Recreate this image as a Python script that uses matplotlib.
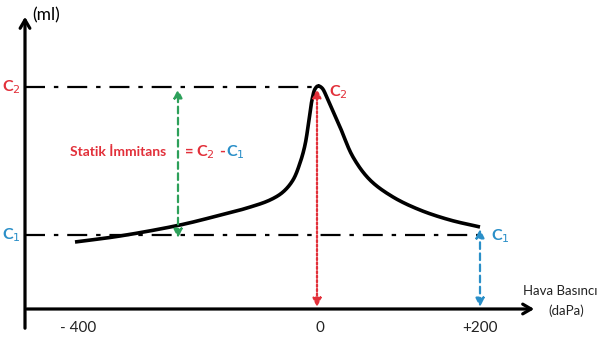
import matplotlib
matplotlib.use("Agg")
import matplotlib.pyplot as plt
import numpy as np

# ---- data (chart layout units; y grows downward like the picture) ----
curve_x = [75, 120, 180, 213, 247, 270, 283, 293, 300, 305, 309, 312, 315, 318, 322, 328, 340, 353, 370, 393, 420, 450, 480]
curve_y = [242, 236, 225, 217, 208, 200, 192, 180, 163, 145, 120, 100, 89, 86, 88, 100, 127, 157, 180, 197, 210, 220, 227]

tick_labels = ["- 400", "0", "+200"]
tick_pos = [78, 320, 480]

c1_level = 235
c2_level = 87
base_level = 309
axis_x = 25

RED = "#e2303a"
BLUE = "#2a8fc8"
GREEN = "#2da05a"

plt.rcParams['font.family'] = ['Lato', 'DejaVu Sans']


def catmull_rom(xs, ys, n=20, alpha=0.5):
    P = np.column_stack([xs, ys]).astype(float)
    P = np.vstack([2 * P[0] - P[1], P, 2 * P[-1] - P[-2]])
    out = []
    for i in range(1, len(P) - 2):
        p0, p1, p2, p3 = P[i - 1], P[i], P[i + 1], P[i + 2]
        t0 = 0.0
        t1 = t0 + np.linalg.norm(p1 - p0) ** alpha
        t2 = t1 + np.linalg.norm(p2 - p1) ** alpha
        t3 = t2 + np.linalg.norm(p3 - p2) ** alpha
        t = np.linspace(t1, t2, n)[:, None]
        A1 = (t1 - t) / (t1 - t0) * p0 + (t - t0) / (t1 - t0) * p1
        A2 = (t2 - t) / (t2 - t1) * p1 + (t - t1) / (t2 - t1) * p2
        A3 = (t3 - t) / (t3 - t2) * p2 + (t - t2) / (t3 - t2) * p3
        B1 = (t2 - t) / (t2 - t0) * A1 + (t - t0) / (t2 - t0) * A2
        B2 = (t3 - t) / (t3 - t1) * A2 + (t - t1) / (t3 - t1) * A3
        C = (t2 - t) / (t2 - t1) * B1 + (t - t1) / (t2 - t1) * B2
        out.append(C)
    C = np.vstack(out)
    return C[:, 0], C[:, 1]


fig = plt.figure(figsize=(6.03, 3.45), dpi=100)
ax = fig.add_axes([0, 0, 1, 1])
ax.set_xlim(0, 603)
ax.set_ylim(345, 0)
ax.axis('off')

# axes with arrows
ax.annotate("", xy=(axis_x, 14), xytext=(axis_x, 331),
            arrowprops=dict(arrowstyle="->,head_length=0.6,head_width=0.35", lw=2.3, color="black"))
ax.annotate("", xy=(537, base_level), xytext=(axis_x - 1, base_level),
            arrowprops=dict(arrowstyle="->,head_length=0.6,head_width=0.35", lw=2.3, color="black"))

# dash-dot reference lines
peak_x = curve_x[curve_y.index(min(curve_y))]
ax.plot([axis_x, peak_x], [c2_level, c2_level], color="black", lw=1.6, dashes=(9, 4, 2, 4))
ax.plot([axis_x, curve_x[-1]], [c1_level, c1_level], color="black", lw=1.6, dashes=(9, 4, 2, 4))

# curve (smooth through read points)
sx, sy = catmull_rom(curve_x, curve_y)
ax.plot(sx, sy, color="black", lw=2.6, solid_capstyle='butt')

# double arrows
def darrow(x, y0, y1, color, ls):
    ax.annotate("", xy=(x, y0), xytext=(x, y1),
                arrowprops=dict(arrowstyle="<|-|>,head_length=0.5,head_width=0.25", lw=1.6,
                                color=color, linestyle=ls, shrinkA=0, shrinkB=0))

darrow(178, 89, 238, GREEN, (0, (3, 2)))
darrow(317, 89, 307, RED, (0, (1, 1)))
darrow(480, 229, 307, BLUE, (0, (3, 2)))

# labels
ax.text(2, c2_level, "C$_2$", color=RED, fontsize=11.5, fontweight='bold', va='center', ha='left')
ax.text(2, c1_level, "C$_1$", color=BLUE, fontsize=11.5, fontweight='bold', va='center', ha='left')
ax.text(329, 92, "C$_2$", color=RED, fontsize=11.5, fontweight='bold', va='center', ha='left')
ax.text(491, 236, "C$_1$", color=BLUE, fontsize=11.5, fontweight='bold', va='center', ha='left')
ax.text(32, 15, "(ml)", fontsize=12.5, va='center', ha='left')
ax.text(560, 291, "Hava Basıncı", fontsize=9.5, va='center', ha='center', color="#222222")
ax.text(566, 311, "(daPa)", fontsize=9.5, va='center', ha='center', color="#222222")
for p, l in zip(tick_pos, tick_labels):
    ax.text(p, 328, l, fontsize=11, va='center', ha='center', color="#222222")

ax.text(166, 152, "Statik İmmitans", color=RED, fontsize=10, fontweight='bold', va='center', ha='right')
ax.text(185, 152, "=", color=RED, fontsize=10.5, fontweight='bold', va='center', ha='left')
ax.text(196, 152, "C$_2$", color=RED, fontsize=11.5, fontweight='bold', va='center', ha='left')
ax.text(219, 152, "-", color=RED, fontsize=11.5, fontweight='bold', va='center', ha='left')
ax.text(226, 152, "C$_1$", color=BLUE, fontsize=11.5, fontweight='bold', va='center', ha='left')

fig.savefig("out.png", dpi=100)
